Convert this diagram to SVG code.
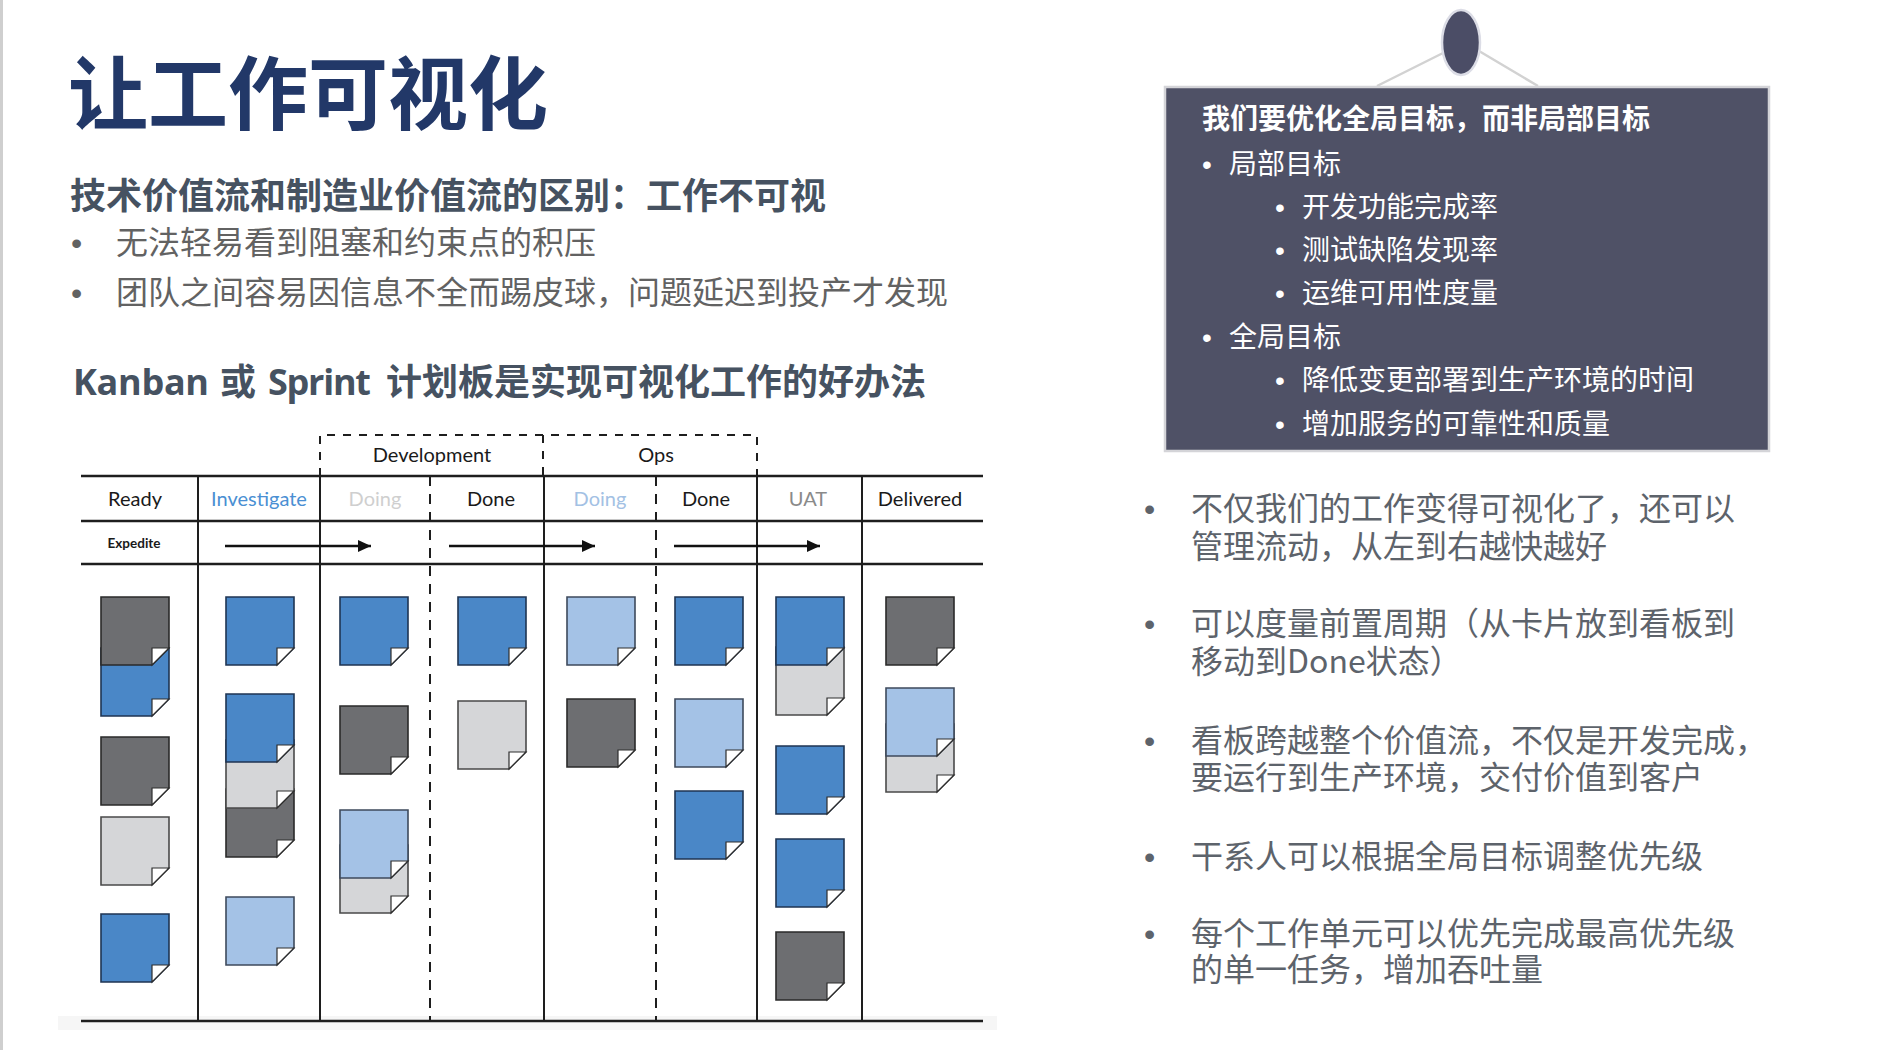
<svg xmlns="http://www.w3.org/2000/svg" xmlns:xlink="http://www.w3.org/1999/xlink" width="1902" height="1050" viewBox="0 0 1902 1050">
<defs>
<style>
.cjk{font-family:"Noto Sans CJK SC","Noto Sans",sans-serif}
.ttl{font-size:80px;font-weight:700;fill:#223868}
.sub{font-size:36px;font-weight:700;fill:#465261}
.bl{font-size:32px;fill:#626262}
.rb{font-size:32px;fill:#5d636b}
.bx{font-size:28px;fill:#ffffff}
.dot{font-family:"Liberation Sans",Arial,sans-serif}
.hd{font-family:Lato,"Open Sans",sans-serif;font-size:20px;fill:#1a1a1a;text-anchor:middle}
.hl{stroke:#1e1e1e;stroke-width:2.5;fill:none}
.vl{stroke:#1e1e1e;stroke-width:2;fill:none}
.dl{stroke:#1e1e1e;stroke-width:2;fill:none;stroke-dasharray:10 8}
.dt{stroke:#1e1e1e;stroke-width:2;fill:none;stroke-dasharray:8 8}
.arr{stroke:#111;stroke-width:2.5;fill:none;marker-end:url(#ah)}
.cb{stroke-width:1.6;stroke-linejoin:miter}
.fold{fill:#ffffff;stroke:#2e2e2e;stroke-width:1.2;stroke-linejoin:miter}
.blue{fill:#4a87c7;stroke:#1f3553}
.lblue{fill:#a4c2e6;stroke:#3e4a5c}
.dgray{fill:#6d6e71;stroke:#2a2a2a}
.lgray{fill:#d5d6d8;stroke:#4a4a4a}
</style>
<g id="card"><path class="cb" d="M0,0H68V51L51,68H0Z"/><path class="fold" d="M51,51H68L51,68Z"/></g>
<marker id="ah" markerUnits="userSpaceOnUse" markerWidth="14" markerHeight="14" refX="13" refY="6" orient="auto"><path d="M0,0L13,6L0,12Z" fill="#111"/></marker>
</defs>
<rect x="0" y="0" width="1902" height="1050" fill="#ffffff"/>
<rect x="0" y="0" width="3" height="1050" fill="#cfcfcf"/>

<g id="left-text" class="cjk">
<text class="ttl" x="68" y="123">让工作可视化</text>
<text class="sub" x="70" y="209">技术价值流和制造业价值流的区别：工作不可视</text>
<text class="bl dot" x="71" y="254">•</text>
<text class="bl" x="116" y="254">无法轻易看到阻塞和约束点的积压</text>
<text class="bl dot" x="71" y="304">•</text>
<text class="bl" x="116" y="304">团队之间容易因信息不全而踢皮球，问题延迟到投产才发现</text>
<text class="sub" y="395"><tspan x="73" font-family="'Open Sans',sans-serif" textLength="136">Kanban</tspan><tspan x="220">或</tspan><tspan x="268" font-family="'Open Sans',sans-serif" textLength="103">Sprint</tspan><tspan x="386">计划板是实现可视化工作的好办法</tspan></text>
</g>

<g id="kanban-board">
<rect x="58" y="1016" width="939" height="14" fill="#f6f6f6"/>
<g id="board-lines">
<path class="hl" d="M81,476H983M81,521H983M81,564H983M81,1021H983"/>
<path class="vl" d="M198,476V1021M320,476V1021M544,476V1021M757,476V1021M862,476V1021"/>
<path class="dl" d="M430,476V1021M656,476V1021"/>
<path class="dt" d="M320,476V435H757V476M543,435V476"/>
</g>
<g id="headers">
<text class="hd" x="432" y="462">Development</text>
<text class="hd" x="656" y="462">Ops</text>
<text class="hd" x="135" y="506">Ready</text>
<text class="hd" x="259" y="506" style="fill:#4a8fd3">Investigate</text>
<text class="hd" x="375" y="506" style="fill:#cfcfcf">Doing</text>
<text class="hd" x="491" y="506">Done</text>
<text class="hd" x="600" y="506" style="fill:#a3c1e4">Doing</text>
<text class="hd" x="706" y="506">Done</text>
<text class="hd" x="808" y="506" style="fill:#8a8a8a">UAT</text>
<text class="hd" x="920" y="506">Delivered</text>
<text class="hd" x="134" y="548" style="font-size:14px;font-weight:700" textLength="53" lengthAdjust="spacingAndGlyphs">Expedite</text>
</g>
<g id="connectors">
<path class="arr" d="M225,546H371"/>
<path class="arr" d="M449,546H595"/>
<path class="arr" d="M674,546H820"/>
</g>
<g id="col-ready">
<use xlink:href="#card" href="#card" class="blue" x="101" y="648"/>
<use xlink:href="#card" href="#card" class="dgray" x="101" y="597"/>
<use xlink:href="#card" href="#card" class="dgray" x="101" y="737"/>
<use xlink:href="#card" href="#card" class="lgray" x="101" y="817"/>
<use xlink:href="#card" href="#card" class="blue" x="101" y="914"/>
</g>
<g id="col-investigate">
<use xlink:href="#card" href="#card" class="blue" x="226" y="597"/>
<use xlink:href="#card" href="#card" class="dgray" x="226" y="789"/>
<use xlink:href="#card" href="#card" class="lgray" x="226" y="740"/>
<use xlink:href="#card" href="#card" class="blue" x="226" y="694"/>
<use xlink:href="#card" href="#card" class="lblue" x="226" y="897"/>
</g>
<g id="col-dev-doing">
<use xlink:href="#card" href="#card" class="blue" x="340" y="597"/>
<use xlink:href="#card" href="#card" class="dgray" x="340" y="706"/>
<use xlink:href="#card" href="#card" class="lgray" x="340" y="845"/>
<use xlink:href="#card" href="#card" class="lblue" x="340" y="810"/>
</g>
<g id="col-dev-done">
<use xlink:href="#card" href="#card" class="blue" x="458" y="597"/>
<use xlink:href="#card" href="#card" class="lgray" x="458" y="701"/>
</g>
<g id="col-ops-doing">
<use xlink:href="#card" href="#card" class="lblue" x="567" y="597"/>
<use xlink:href="#card" href="#card" class="dgray" x="567" y="699"/>
</g>
<g id="col-ops-done">
<use xlink:href="#card" href="#card" class="blue" x="675" y="597"/>
<use xlink:href="#card" href="#card" class="lblue" x="675" y="699"/>
<use xlink:href="#card" href="#card" class="blue" x="675" y="791"/>
</g>
<g id="col-uat">
<use xlink:href="#card" href="#card" class="lgray" x="776" y="647"/>
<use xlink:href="#card" href="#card" class="blue" x="776" y="597"/>
<use xlink:href="#card" href="#card" class="blue" x="776" y="746"/>
<use xlink:href="#card" href="#card" class="blue" x="776" y="839"/>
<use xlink:href="#card" href="#card" class="dgray" x="776" y="932"/>
</g>
<g id="col-delivered">
<use xlink:href="#card" href="#card" class="dgray" x="886" y="597"/>
<use xlink:href="#card" href="#card" class="lgray" x="886" y="724"/>
<use xlink:href="#card" href="#card" class="lblue" x="886" y="688"/>
</g>
</g>

<g id="goal-panel">
<path d="M1443,53L1377,86M1479,51L1538,86" stroke="#d2d2d2" stroke-width="2.5" fill="none"/>
<ellipse cx="1461" cy="42.5" rx="19" ry="32.5" fill="#4b4d66" stroke="#dcdde6" stroke-width="2.5"/>
<rect x="1165" y="87" width="604" height="364" fill="#4f5166" stroke="#d4d4d8" stroke-width="2.5"/>
<g class="cjk">
<text class="bx" x="1202" y="129" font-weight="700">我们要优化全局目标，而非局部目标</text>
<text class="bx dot" x="1202" y="174">•</text>
<text class="bx" x="1229" y="174">局部目标</text>
<text class="bx dot" x="1275" y="217">•</text>
<text class="bx" x="1302" y="217">开发功能完成率</text>
<text class="bx dot" x="1275" y="260">•</text>
<text class="bx" x="1302" y="260">测试缺陷发现率</text>
<text class="bx dot" x="1275" y="303">•</text>
<text class="bx" x="1302" y="303">运维可用性度量</text>
<text class="bx dot" x="1202" y="347">•</text>
<text class="bx" x="1229" y="347">全局目标</text>
<text class="bx dot" x="1275" y="390">•</text>
<text class="bx" x="1302" y="390">降低变更部署到生产环境的时间</text>
<text class="bx dot" x="1275" y="434">•</text>
<text class="bx" x="1302" y="434">增加服务的可靠性和质量</text>
</g>
</g>

<g id="right-bullets" class="cjk">
<text class="rb dot" x="1144" y="520">•</text>
<text class="rb" x="1191" y="520">不仅我们的工作变得可视化了，还可以</text>
<text class="rb" x="1191" y="558">管理流动，从左到右越快越好</text>
<text class="rb dot" x="1144" y="635">•</text>
<text class="rb" x="1191" y="635">可以度量前置周期（从卡片放到看板到</text>
<text class="rb" x="1191" y="673">移动到Done状态）</text>
<text class="rb dot" x="1144" y="752">•</text>
<text class="rb" x="1191" y="752">看板跨越整个价值流，不仅是开发完成，</text>
<text class="rb" x="1191" y="789">要运行到生产环境，交付价值到客户</text>
<text class="rb dot" x="1144" y="868">•</text>
<text class="rb" x="1191" y="868">干系人可以根据全局目标调整优先级</text>
<text class="rb dot" x="1144" y="945">•</text>
<text class="rb" x="1191" y="945">每个工作单元可以优先完成最高优先级</text>
<text class="rb" x="1191" y="981">的单一任务，增加吞吐量</text>
</g>
</svg>
